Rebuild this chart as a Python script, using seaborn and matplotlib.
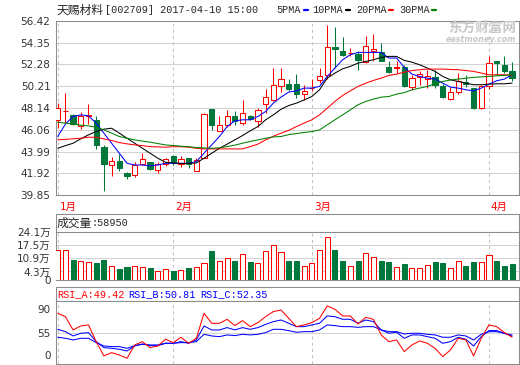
# 天赐材料 [002709] daily K-line chart: candles + MA, volume and RSI panels
import numpy as np
import matplotlib
matplotlib.use('Agg')
import matplotlib.pyplot as plt
import matplotlib.transforms as mtransforms
from matplotlib.lines import Line2D
import seaborn as sns

sns.set_style('white')
plt.rcParams['font.family'] = ['Noto Sans CJK SC', 'DejaVu Sans']
SANS = ['DejaVu Sans', 'Noto Sans CJK SC']
MONO = ['Liberation Mono', 'Noto Sans CJK SC']

# ============================================================================
# Data
# ============================================================================
month_labels = ['1月', '2月', '3月', '4月']
month_start = [0, 15, 33, 56]   # index of first candle in each month

open_p = [46.95, 47.82, 47.45, 46.45, 47.40, 46.97, 44.40, 42.70, 43.13, 41.95,
          41.76, 42.81, 42.97, 42.24, 42.81, 43.54, 42.81, 43.35, 42.17, 43.42,
          48.06, 45.99, 46.47, 47.42, 46.75, 47.42, 46.94, 48.50, 48.88, 50.19,
          50.41, 50.41, 49.45, 50.00, 50.76, 51.24, 53.91, 53.56, 53.34, 53.31,
          52.48, 53.60, 53.43, 52.03, 51.97, 52.00, 50.09, 51.05, 50.92, 51.05,
          50.25, 49.01, 49.64, 50.60, 50.03, 48.18, 50.19, 52.57, 52.19, 51.62]
close_p = [48.12, 47.88, 46.62, 47.40, 47.50, 44.62, 42.81, 43.13, 42.43, 41.70,
           42.71, 43.32, 42.33, 42.81, 43.32, 42.97, 43.29, 42.81, 43.19, 47.61,
           46.47, 46.47, 47.42, 46.94, 47.67, 47.07, 47.90, 49.20, 50.35, 50.86,
           49.96, 49.45, 49.71, 50.05, 51.14, 53.91, 53.78, 53.21, 53.37, 52.70,
           54.00, 53.75, 52.64, 51.55, 52.00, 50.19, 50.98, 51.36, 51.14, 50.35,
           49.17, 49.64, 50.66, 50.41, 48.18, 50.19, 52.41, 52.41, 51.62, 50.98]
high_p = [48.60, 49.55, 47.60, 47.80, 48.50, 47.42, 44.60, 43.45, 43.73, 42.08,
          42.97, 43.83, 43.03, 43.03, 43.40, 43.67, 43.57, 43.42, 43.42, 47.65,
          48.06, 47.33, 47.93, 47.87, 48.93, 47.48, 48.12, 49.96, 51.94, 51.94,
          50.89, 51.36, 50.35, 50.89, 51.94, 56.07, 55.85, 54.89, 53.84, 53.53,
          54.95, 55.21, 54.32, 52.57, 52.57, 52.25, 51.30, 51.68, 51.71, 51.78,
          50.41, 50.15, 51.43, 51.30, 50.03, 50.35, 53.05, 52.57, 53.05, 52.48]
low_p = [46.20, 46.70, 46.55, 46.10, 46.60, 44.24, 40.23, 41.66, 42.14, 41.38,
         41.60, 42.70, 42.24, 41.98, 42.60, 42.71, 42.55, 42.39, 42.10, 43.35,
         46.05, 45.90, 46.37, 46.53, 46.53, 47.00, 46.37, 47.64, 48.76, 49.65,
         49.71, 49.07, 48.92, 49.77, 50.50, 50.92, 51.94, 53.05, 53.05, 51.78,
         52.41, 52.57, 52.57, 51.46, 51.46, 50.12, 49.87, 50.35, 50.03, 50.03,
         49.07, 48.92, 49.45, 50.12, 48.06, 48.06, 49.93, 51.30, 51.46, 50.66]

ma5 = [45.42, 46.60, 47.33, 47.48, 47.39, 46.69, 45.74, 44.78, 43.83, 42.87,
       42.71, 42.71, 42.62, 42.71, 42.87, 42.87, 42.87, 42.87, 43.03, 43.83,
       44.62, 45.42, 46.37, 46.91, 47.01, 47.01, 47.33, 47.80, 48.60, 49.17,
       49.65, 49.77, 50.03, 50.03, 50.19, 51.14, 51.94, 52.73, 53.21, 53.43,
       53.43, 53.43, 53.43, 52.89, 52.90, 52.00, 51.36, 51.14, 50.98, 50.89,
       50.50, 50.12, 50.03, 49.87, 49.77, 50.03, 50.41, 50.73, 50.89, 51.30]
ma10 = [44.30, 44.55, 44.78, 45.20, 45.58, 45.90, 46.12, 46.21, 45.74, 45.26,
        44.78, 44.30, 43.83, 43.35, 42.97, 42.90, 42.85, 42.85, 42.90, 43.35,
        43.83, 44.30, 44.69, 45.10, 45.51, 45.96, 46.37, 47.01, 47.48, 48.02,
        48.37, 48.60, 48.90, 49.23, 49.87, 50.98, 51.46, 51.87, 52.10, 52.41,
        52.57, 52.73, 52.95, 53.05, 53.05, 52.67, 52.50, 52.25, 51.94, 51.62,
        51.14, 50.82, 50.66, 50.50, 50.35, 50.35, 50.41, 50.44, 50.44, 50.50]
ma20 = [45.10, 45.15, 45.20, 45.26, 45.35, 45.35, 45.19, 45.04, 44.84, 44.72,
        44.62, 44.55, 44.46, 44.43, 44.40, 44.45, 44.45, 44.40, 44.30, 44.24,
        44.24, 44.24, 44.24, 44.24, 44.24, 44.46, 44.70, 45.10, 45.45, 45.74,
        46.00, 46.37, 46.70, 47.01, 47.48, 48.12, 48.76, 49.33, 49.77, 50.19,
        50.50, 50.76, 50.98, 51.24, 51.36, 51.55, 51.70, 51.78, 51.84, 51.84,
        51.84, 51.80, 51.78, 51.70, 51.62, 51.46, 51.30, 51.30, 51.30, 51.24]
ma30 = [46.78, 46.70, 46.60, 46.50, 46.43, 46.31, 46.05, 45.74, 45.42, 45.25,
        45.10, 44.98, 44.88, 44.75, 44.62, 44.56, 44.50, 44.45, 44.37, 44.33,
        44.30, 44.35, 44.46, 44.60, 44.78, 44.95, 45.10, 45.25, 45.38, 45.42,
        45.60, 45.70, 45.80, 45.89, 46.05, 46.53, 47.01, 47.48, 47.96, 48.44,
        48.76, 48.98, 49.17, 49.23, 49.46, 49.60, 49.87, 50.03, 50.19, 50.45,
        50.66, 50.80, 50.89, 50.97, 51.05, 51.10, 51.14, 51.20, 51.24, 51.30]

volume = [15.2, 15.2, 10.1, 9.3, 8.9, 8.4, 10.1, 7.2, 5.6, 6.4,
          7.2, 6.4, 5.9, 4.5, 5.4, 4.5, 5.1, 6.1, 6.7, 8.4,
          14.7, 9.3, 11.0, 9.6, 13.0, 8.9, 8.4, 14.7, 17.7, 14.0,
          9.3, 9.6, 7.1, 8.4, 15.2, 21.6, 15.3, 9.6, 7.1, 9.3,
          13.5, 11.5, 9.6, 8.8, 6.4, 8.1, 6.1, 5.9, 7.6, 8.8,
          8.3, 6.1, 9.6, 7.1, 8.8, 9.1, 12.6, 9.6, 7.2, 7.8]   # 万

rsi_a = [84.2, 79.3, 59.9, 65.7, 67.2, 42.8, 22.0, 26.8, 23.4, 18.5,
         38.0, 42.8, 34.1, 36.5, 46.3, 41.4, 49.2, 40.4, 47.7, 84.2,
         69.6, 69.6, 75.4, 66.2, 73.5, 64.7, 70.6, 79.3, 86.6, 89.0,
         76.9, 64.7, 67.2, 70.6, 76.9, 94.9, 90.0, 80.3, 80.3, 68.6,
         78.3, 75.4, 52.6, 42.8, 45.3, 28.3, 38.0, 43.8, 40.4, 33.1,
         21.0, 30.7, 47.7, 45.3, 22.0, 47.7, 67.2, 64.7, 56.0, 49.4]
rsi_b = [60.8, 57.4, 51.1, 55.0, 56.0, 42.8, 34.1, 33.1, 31.7, 29.2,
         36.5, 39.4, 37.0, 37.0, 40.4, 40.4, 42.8, 40.4, 45.3, 65.7,
         59.9, 59.9, 63.3, 59.9, 63.3, 60.8, 63.3, 68.0, 72.0, 74.4,
         69.6, 64.7, 64.7, 67.2, 69.6, 80.3, 79.3, 75.4, 75.4, 69.6,
         74.4, 72.0, 59.9, 55.0, 56.5, 47.7, 52.6, 52.6, 50.1, 47.7,
         40.4, 42.8, 49.2, 46.3, 36.5, 50.1, 58.9, 58.9, 55.0, 50.8]
rsi_c = [49.2, 47.7, 45.3, 47.7, 47.7, 41.4, 36.5, 35.6, 35.6, 33.1,
         37.0, 39.0, 38.0, 38.0, 40.4, 40.4, 41.4, 41.4, 42.8, 53.5,
         51.1, 50.1, 52.6, 51.6, 53.5, 52.6, 53.5, 56.0, 60.8, 60.8,
         58.9, 56.5, 57.4, 57.4, 59.9, 67.2, 66.2, 64.7, 64.7, 63.7,
         64.7, 64.7, 59.9, 57.4, 57.4, 54.0, 55.0, 55.0, 53.5, 52.6,
         49.2, 49.2, 52.6, 51.1, 45.3, 53.5, 57.4, 57.4, 55.0, 52.4]

price_ticks = [56.42, 54.35, 52.28, 50.21, 48.14, 46.06, 43.99, 41.92, 39.85]
vol_ticks = [24.1, 17.5, 10.9, 4.3, 0]
vol_tick_labels = ['24.1万', '17.5万', '10.9万', '4.3万', '0']
rsi_ticks = [90, 55, 23.4]
rsi_tick_labels = ['90', '55', '0']

# ============================================================================
# Styling
# ============================================================================
UP = '#FF0000'
DOWN = '#00783C'
FRAME = '#8C8C8C'
GRID = '#D2D2D2'
VGRID = '#C4C4C4'
LW = 0.75

W, H = 520, 365
fig = plt.figure(figsize=(W / 100, H / 100), dpi=100)


def add_ax(l, t, r, b):
    # axes placed by pixel edges (left, top, right, bottom)
    return fig.add_axes([l / W, 1 - b / H, (r - l) / W, (b - t) / H])


def frame(a):
    for s in a.spines.values():
        s.set_color(FRAME)
        s.set_linewidth(LW)


def month_lines(a):
    for m in month_start:
        a.axvline(m, color=VGRID, lw=LW, ls=(0, (3, 3)), zorder=0)


def ytick_style(a, ticks, labels):
    a.set_yticks(ticks)
    a.set_yticklabels(labels, family=SANS)
    a.set_xticks([])
    a.set_xlabel('')
    a.set_ylabel('')
    a.tick_params(axis='y', length=0, pad=4, labelsize=7.5, labelcolor='#333333')


def fig_text(px, py, s, ha='left', **kw):
    fig.text(px / W, 1 - py / H, s, va='center', ha=ha, **kw)


x = np.arange(len(close_p))
o = np.array(open_p)
c = np.array(close_p)
up = c >= o
edge = np.where(up, UP, DOWN)
face = np.where(up, 'white', DOWN)
xlim = (-0.22, 59.9)

# ----------------------------------------------------------------------------
# Main price panel
# ----------------------------------------------------------------------------
ax = add_ax(56, 21, 519, 195)
for p in price_ticks[1:-1]:
    ax.axhline(p, color=GRID, lw=LW, zorder=0)
month_lines(ax)

ax.vlines(x, low_p, high_p, colors=edge, lw=LW, zorder=2)
body_h = np.maximum(np.abs(c - o), 0.05)
ax.bar(x, body_h, bottom=np.minimum(o, c), width=0.68, color=face,
       edgecolor=edge, linewidth=LW, zorder=3)

for ma, col in [(ma5, '#0000FF'), (ma10, '#000000'), (ma20, '#FF0000'), (ma30, '#008000')]:
    sns.lineplot(x=x, y=ma, color=col, lw=LW, ax=ax, zorder=4)

ax.set_xlim(*xlim)
ax.set_ylim(price_ticks[-1], price_ticks[0])
ytick_style(ax, price_ticks, [f'{t:.2f}' for t in price_ticks])
frame(ax)

trans = mtransforms.blended_transform_factory(ax.transData, ax.transAxes)
for m, lab in zip(month_start, month_labels):
    ax.text(m + 0.25, -0.07, lab, transform=trans, color='#FF0000',
            fontsize=7.5, family=SANS, ha='left', va='center')

# watermark
fig_text(516, 28, '东方财富网', ha='right', color='#C8C8C8', fontsize=9.8, fontweight='bold')
fig_text(516, 40, 'eastmoney.com', ha='right', color='#C8C8C8', fontsize=5.8,
         fontweight='bold', style='italic', family=SANS)

# title row
fig_text(57, 10, '天赐材料', fontsize=8.5)
fig_text(105, 10, '[002709] 2017-04-10 15:00', fontsize=7.3, family=MONO)
for lab, tx, col, lx in [('5PMA', 276, '#0000FF', 304), ('10PMA', 312, '#000000', 346),
                          ('20PMA', 356, '#FF0000', 389), ('30PMA', 399, '#008000', 432)]:
    fig_text(tx, 10, lab, fontsize=7.3, family=MONO)
    fig.add_artist(Line2D([lx / W, (lx + 4) / W], [1 - 10 / H] * 2, color=col, lw=1.6))

# ----------------------------------------------------------------------------
# Volume panel
# ----------------------------------------------------------------------------
vh = add_ax(56, 214, 519, 232)
vh.set_xticks([])
vh.set_yticks([])
frame(vh)
fig_text(57, 223, '成交量', fontsize=8.5)
fig_text(92, 223, ':58950', fontsize=7.3, family=MONO)

av = add_ax(56, 232, 519, 280)
for v in vol_ticks[1:-1]:
    av.axhline(v, color=GRID, lw=LW, zorder=0)
month_lines(av)
av.bar(x, volume, width=0.66, color=face, edgecolor=edge, linewidth=LW, zorder=3)
av.set_xlim(*xlim)
av.set_ylim(0, vol_ticks[0])
ytick_style(av, vol_ticks, vol_tick_labels)
frame(av)

# ----------------------------------------------------------------------------
# RSI panel
# ----------------------------------------------------------------------------
rh = add_ax(56, 287, 519, 301)
rh.set_xticks([])
rh.set_yticks([])
frame(rh)
for lab, tx, col in [('RSI_A:49.42', 57, '#FF0000'), ('RSI_B:50.81', 128, '#0000FF'),
                      ('RSI_C:52.35', 200, '#0000FF')]:
    fig_text(tx, 294, lab, fontsize=7.3, color=col, family=MONO)

ar = add_ax(56, 301, 519, 364)
ar.axhline(55, color=GRID, lw=LW, zorder=0)
month_lines(ar)
sns.lineplot(x=x, y=rsi_c, color='#0000FF', lw=LW, ax=ar, zorder=3)
sns.lineplot(x=x, y=rsi_b, color='#0000FF', lw=LW, ax=ar, zorder=3)
sns.lineplot(x=x, y=rsi_a, color='#FF0000', lw=LW, ax=ar, zorder=4)
ar.set_xlim(*xlim)
ar.set_ylim(10.2, 102.1)
ytick_style(ar, rsi_ticks, rsi_tick_labels)
frame(ar)

fig.savefig('out.png', dpi=100)
